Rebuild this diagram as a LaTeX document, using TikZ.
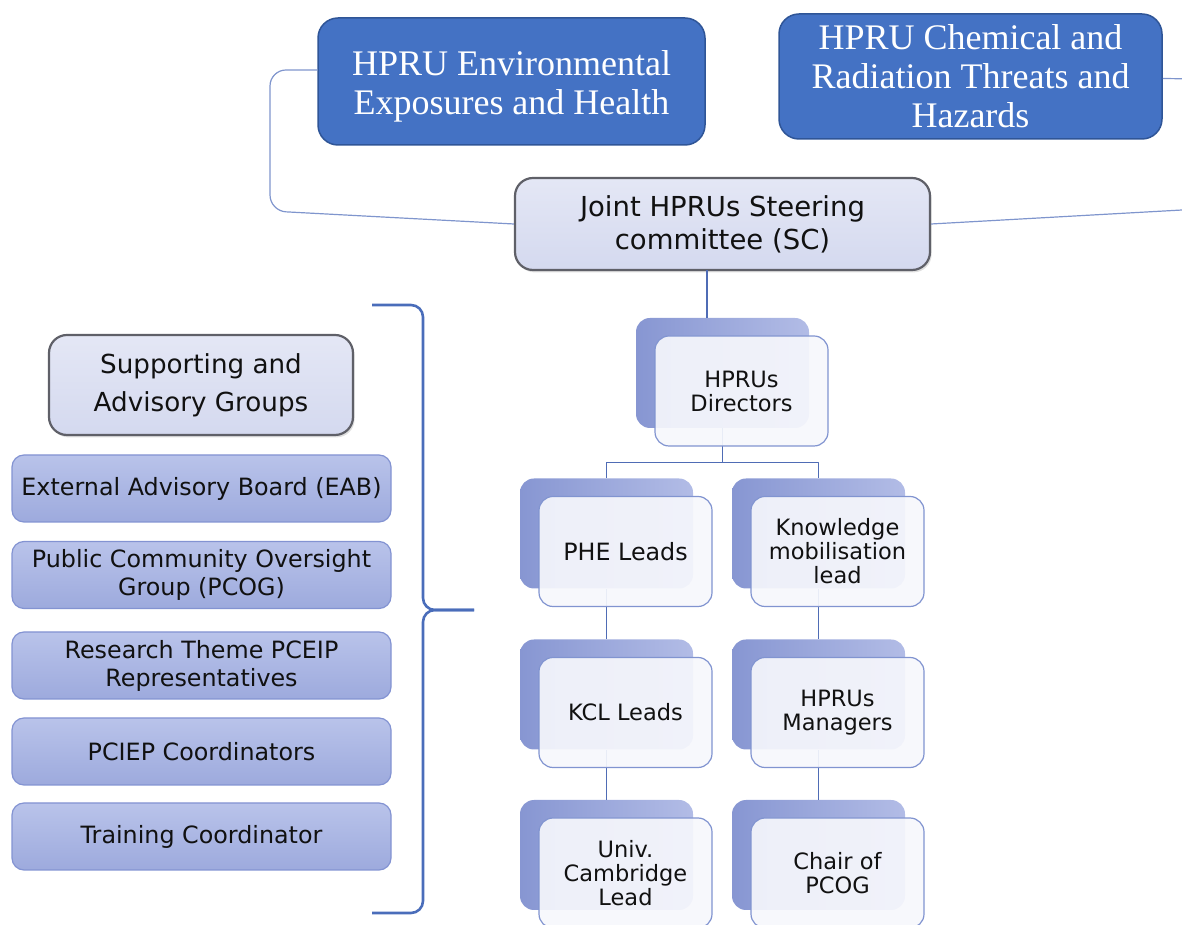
\documentclass[tikz,border=0pt]{standalone}
\usepackage{fontspec}
\setsansfont{DejaVu Sans}
\newfontfamily\hpruserif{Liberation Serif}
\usetikzlibrary{shadows}
\definecolor{hprublue}{HTML}{4472C4}
\definecolor{hpruedge}{HTML}{2F5597}
\definecolor{scltop}{HTML}{E4E7F5}
\definecolor{sclbot}{HTML}{D4D9EF}
\definecolor{panelgray}{HTML}{5F6068}
\definecolor{listtop}{HTML}{B9C3EA}
\definecolor{listbot}{HTML}{9DAADD}
\definecolor{listedge}{HTML}{8393D2}
\definecolor{backdark}{HTML}{8796D2}
\definecolor{backlight}{HTML}{B2BCE6}
\definecolor{frontfill}{HTML}{F6F7FC}
\definecolor{frontedge}{HTML}{8194D0}
\definecolor{linkblue}{HTML}{4F6CB5}
\definecolor{feedblue}{HTML}{7F95CD}
\definecolor{bracecol}{HTML}{4A6DBA}
\definecolor{inkblack}{HTML}{111111}
\begin{document}
\begin{tikzpicture}[>=latex,line join=bevel,
  unit/.style={draw=hpruedge,line width=0.75bp,fill=hprublue,rounded corners=10bp,text=white,align=center,inner sep=2bp,font=\hpruserif\fontsize{18bp}{19.5bp}\selectfont},
  panel/.style={draw=panelgray,line width=1.1bp,top color=scltop,bottom color=sclbot,rounded corners=9bp,align=center,inner sep=2bp,text=inkblack,drop shadow={opacity=0.25,shadow xshift=0.8bp,shadow yshift=-1.2bp}},
  group/.style={draw=listedge,line width=0.6bp,top color=listtop,bottom color=listbot,rounded corners=6bp,align=center,inner sep=2bp,text=inkblack,minimum width=189.5bp,minimum height=33.5bp,font=\sffamily\fontsize{11.9bp}{14bp}\selectfont},
  backbox/.style={draw=none,left color=backdark,right color=backlight,rounded corners=7bp,minimum width=86.5bp,minimum height=55bp},
  frontbox/.style={draw=frontedge,line width=0.6bp,fill=frontfill,fill opacity=0.92,text opacity=1,rounded corners=7bp,align=center,inner sep=1bp,text=inkblack,minimum width=86.5bp,minimum height=55bp,font=\sffamily\fontsize{11.25bp}{12bp}\selectfont},
  link/.style={draw=linkblue,line width=0.75bp},
  feed/.style={draw=feedblue,line width=0.6bp,rounded corners=8bp},
  groupbrace/.style={draw=bracecol,line width=1.3bp,rounded corners=6bp},
]
%%
\useasboundingbox (0bp,0bp) rectangle (591bp,462.5bp);
\clip (0bp,0bp) rectangle (591bp,462.5bp);
%
\node (node_env) at (255.75bp,421.75bp) [unit,minimum width=193.5bp,minimum height=63.5bp] {\raisebox{-3bp}[\height][\depth]{\begin{tabular}{@{}c@{}}HPRU Environmental\\Exposures and Health\end{tabular}}};
  \node (node_chem) at (485.25bp,424.25bp) [unit,minimum width=191.5bp,minimum height=62.5bp] {HPRU Chemical and\\Radiation Threats and\\Hazards};
  \node (node_sc) at (361.25bp,350.5bp) [panel,minimum width=207.5bp,minimum height=46bp,font=\sffamily\fontsize{13.75bp}{16.5bp}\selectfont] {Joint HPRUs Steering\\committee (SC)};
  \draw [feed] ([yshift=5.75bp]node_env.west) -- (135bp,427.5bp) -- (135bp,357bp) -- (node_sc.west);
  \draw [feed] ([yshift=-1bp]node_chem.east) -- (600bp,423bp) -- (600bp,358bp) -- (node_sc.east);
%
\node (node_sag) at (100.5bp,270bp) [panel,minimum width=152bp,minimum height=50bp,font=\sffamily\fontsize{13.1bp}{19bp}\selectfont] {Supporting and\\Advisory Groups};
  \node (node_eab) at (100.75bp,218.25bp) [group] {External Advisory Board (EAB)};
  \node (node_pcog) at (100.75bp,175bp) [group] {Public Community Oversight\\Group (PCOG)};
  \node (node_rtp) at (100.75bp,129.75bp) [group] {Research Theme PCEIP\\Representatives};
  \node (node_pciep) at (100.75bp,86.75bp) [group] {PCIEP Coordinators};
  \node (node_train) at (100.75bp,44.25bp) [group] {Training Coordinator};
  \draw [groupbrace] (186bp,310bp) -- (211.5bp,310bp) -- (211.5bp,157.5bp) -- (237bp,157.5bp);
  \draw [groupbrace] (237bp,157.5bp) -- (211.5bp,157.5bp) -- (211.5bp,6bp) -- (186bp,6bp);
%
\node (node_dir_b) at (361.25bp,276bp) [backbox] {};
  \node (node_phe_b) at (303.25bp,195.75bp) [backbox] {};
  \node (node_kml_b) at (409.25bp,195.75bp) [backbox] {};
  \node (node_kcl_b) at (303.25bp,115.25bp) [backbox] {};
  \node (node_man_b) at (409.25bp,115.25bp) [backbox] {};
  \node (node_cam_b) at (303.25bp,35bp) [backbox] {};
  \node (node_chair_b) at (409.25bp,35bp) [backbox] {};
  \coordinate (sc_out) at (353.5bp,327.5bp);
  \draw [link] (sc_out) -- (sc_out |- node_dir_b.north);
  \draw [link] (node_dir_b.south) -- ++(0bp,-17bp) -| (node_phe_b.north);
  \draw [link] (node_dir_b.south) -- ++(0bp,-17bp) -| (node_kml_b.north);
  \draw [link] (node_phe_b.south) -- (node_kcl_b.north);
  \draw [link] (node_kcl_b.south) -- (node_cam_b.north);
  \draw [link] (node_kml_b.south) -- (node_man_b.north);
  \draw [link] (node_man_b.south) -- (node_chair_b.north);
%
\node (node_dir) at (370.75bp,267bp) [frontbox] {HPRUs\\Directors};
  \node (node_phe) at (312.75bp,186.75bp) [frontbox,font=\sffamily\fontsize{11.9bp}{12bp}\selectfont] {PHE Leads};
  \node (node_kml) at (418.75bp,186.75bp) [frontbox] {Knowledge\\mobilisation\\lead};
  \node (node_kcl) at (312.75bp,106.25bp) [frontbox] {KCL Leads};
  \node (node_man) at (418.75bp,106.25bp) [frontbox] {HPRUs\\Managers};
  \node (node_cam) at (312.75bp,26bp) [frontbox] {Univ.\\Cambridge\\Lead};
  \node (node_chair) at (418.75bp,26bp) [frontbox] {Chair of\\PCOG};
%
\end{tikzpicture}
\end{document}
